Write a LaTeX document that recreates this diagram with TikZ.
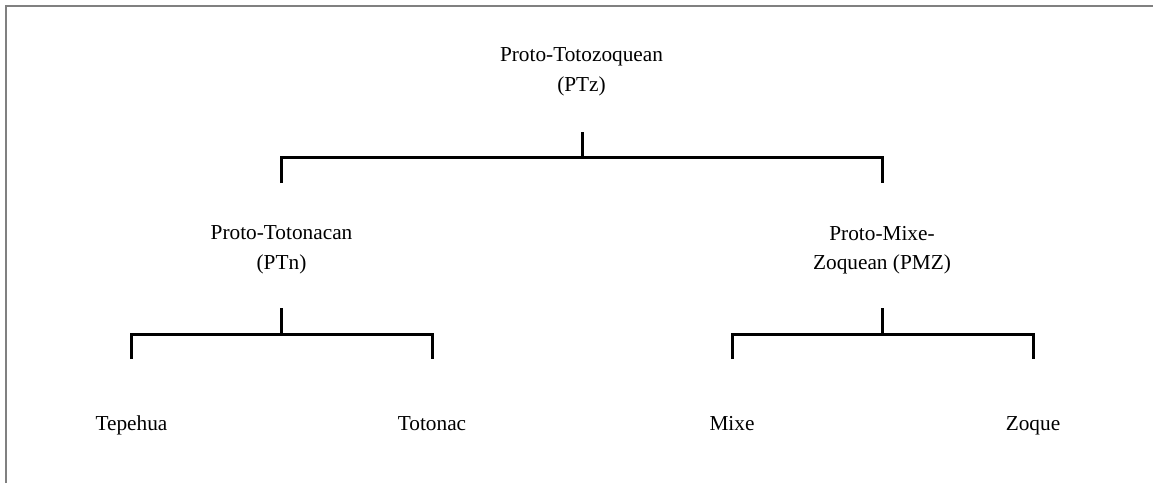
\documentclass[tikz,border=0pt]{standalone}
\usepackage{fontspec}
\setmainfont{Liberation Serif}
\begin{document}
\begin{tikzpicture}[x=1pt,y=-1pt,
  lbl/.style={inner sep=0pt, align=center, font=\fontsize{21.3}{29.5}\selectfont},
  leaf/.style={lbl, anchor=base},
  tree/.style={line width=3pt, black},
  frame/.style={line width=2pt, color=black!50}]
\useasboundingbox (0,0) rectangle (1153,483);
\fill[white] (0,0) rectangle (1153,483);
\draw[frame] (5.5,483) -- (5.5,5.5) -- (1153,5.5);

\node[lbl] (ptz) at (581.5,72) {Proto-Totozoquean\\(PTz)};
\node[lbl] (ptn) at (281.5,250) {Proto-Totonacan\\(PTn)};
\node[lbl] (pmz) at (882,250) {Proto-Mixe-\\Zoquean (PMZ)};
\node[leaf] (tep) at (131.5,430) {Tepehua};
\node[leaf] (tot) at (432,430) {Totonac};
\node[leaf] (mix) at (732,430) {Mixe};
\node[leaf] (zoq) at (1033,430) {Zoque};

% top level
\coordinate (a1) at (582,132);
\coordinate (a2) at (582,157.5);
\coordinate (a3) at (0,183);
\draw[tree] (a1) -- (a2);
\draw[tree] (ptn |- a3) -- (ptn |- a2) -- (pmz |- a2) -- (pmz |- a3);

% second level
\coordinate (b1) at (0,308);
\coordinate (b2) at (0,334);
\coordinate (b3) at (0,359);
\draw[tree] (ptn |- b1) -- (ptn |- b2);
\draw[tree] (tep |- b3) -- (tep |- b2) -- (tot |- b2) -- (tot |- b3);
\draw[tree] (pmz |- b1) -- (pmz |- b2);
\draw[tree] (mix |- b3) -- (mix |- b2) -- (zoq |- b2) -- (zoq |- b3);
\end{tikzpicture}
\end{document}
